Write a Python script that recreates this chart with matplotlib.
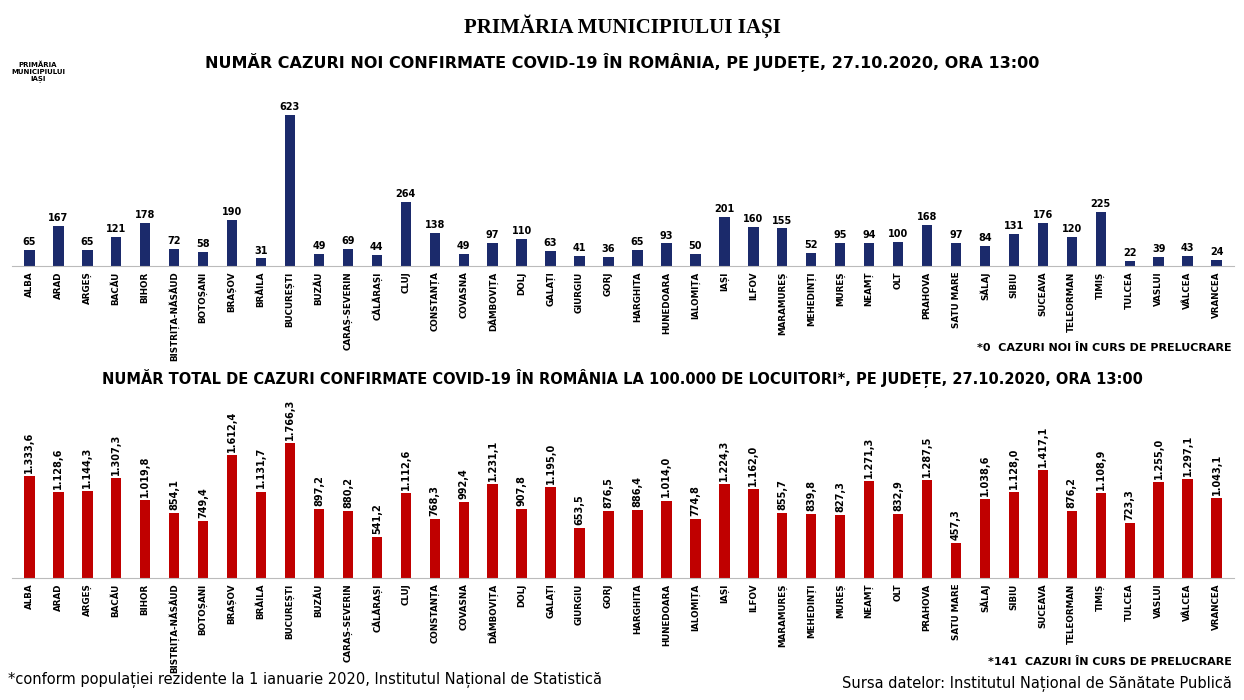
import matplotlib.pyplot as plt

judete = ["ALBA", "ARAD", "ARGEȘ", "BACĂU", "BIHOR", "BISTRIȚA-NĂSĂUD", "BOTOȘANI", "BRAȘOV",
          "BRĂILA", "BUCUREȘTI", "BUZĂU", "CARAȘ-SEVERIN", "CĂLĂRAȘI", "CLUJ", "CONSTANȚA",
          "COVASNA", "DÂMBOVIȚA", "DOLJ", "GALAȚI", "GIURGIU", "GORJ", "HARGHITA", "HUNEDOARA",
          "IALOMIȚA", "IAȘI", "ILFOV", "MARAMUREȘ", "MEHEDINȚI", "MUREȘ", "NEAMȚ", "OLT",
          "PRAHOVA", "SATU MARE", "SĂLAJ", "SIBIU", "SUCEAVA", "TELEORMAN", "TIMIȘ", "TULCEA",
          "VASLUI", "VÂLCEA", "VRANCEA"]
cazuri_noi = [65, 167, 65, 121, 178, 72, 58, 190, 31, 623, 49, 69, 44, 264, 138, 49, 97, 110, 63,
              41, 36, 65, 93, 50, 201, 160, 155, 52, 95, 94, 100, 168, 97, 84, 131, 176, 120, 225,
              22, 39, 43, 24]
la_100k = [1333.6, 1128.6, 1144.3, 1307.3, 1019.8, 854.1, 749.4, 1612.4, 1131.7, 1766.3, 897.2,
           880.2, 541.2, 1112.6, 768.3, 992.4, 1231.1, 907.8, 1195.0, 653.5, 876.5, 886.4, 1014.0,
           774.8, 1224.3, 1162.0, 855.7, 839.8, 827.3, 1271.3, 832.9, 1287.5, 457.3, 1038.6,
           1128.0, 1417.1, 876.2, 1108.9, 723.3, 1255.0, 1297.1, 1043.1]

W, H = 1244, 700
fig = plt.figure(figsize=(W / 100, H / 100), dpi=100)
x = list(range(len(judete)))


def fmt_ro(v):
    s = f"{v:,.1f}"
    return s.replace(",", "X").replace(".", ",").replace("X", ".")


def make_ax(top_px, bot_px):
    ax = fig.add_axes([12 / W, 1 - bot_px / H, 1222 / W, (bot_px - top_px) / H])
    for s in ["top", "right", "left"]:
        ax.spines[s].set_visible(False)
    ax.spines["bottom"].set_color("#bbbbbb")
    ax.set_yticks([])
    ax.set_xlim(-0.6, len(judete) - 0.4)
    ax.set_xticks(x)
    ax.set_xticklabels(judete, rotation=90, fontsize=6.3, fontweight="bold")
    ax.tick_params(axis="x", length=0, pad=4)
    return ax


# --- top chart: new cases
ax1 = make_ax(95, 266)
ax1.bar(x, cazuri_noi, width=0.36, color="#1b2a6b")
ax1.set_ylim(0, 706)
for i, v in enumerate(cazuri_noi):
    ax1.text(i, v + 12, str(v), ha="center", va="bottom", fontsize=7, fontweight="bold")

# --- bottom chart: per 100k
ax2 = make_ax(400, 578)
ax2.bar(x, la_100k, width=0.36, color="#c00000")
ax2.set_ylim(0, 2330)
for i, v in enumerate(la_100k):
    ax2.text(i, v + 40, fmt_ro(v), ha="center", va="bottom", rotation=90, fontsize=7,
             fontweight="bold")

fig.text(0.5, 1 - 26 / H, "PRIMĂRIA MUNICIPIULUI IAȘI", ha="center", va="center",
         fontsize=15, fontweight="bold", family="Liberation Serif")
fig.text(0.5, 1 - 62 / H,
         "NUMĂR CAZURI NOI CONFIRMATE COVID-19 ÎN ROMÂNIA, PE JUDEȚE, 27.10.2020, ORA 13:00",
         ha="center", va="center", fontsize=11.5, fontweight="bold")
fig.text(0.5, 1 - 378 / H,
         "NUMĂR TOTAL DE CAZURI CONFIRMATE COVID-19 ÎN ROMÂNIA LA 100.000 DE LOCUITORI*, PE JUDEȚE, 27.10.2020, ORA 13:00",
         ha="center", va="center", fontsize=10.5, fontweight="bold")
fig.text(1232 / W, 1 - 348 / H, "*0  CAZURI NOI ÎN CURS DE PRELUCRARE", ha="right",
         va="center", fontsize=8, fontweight="bold")
fig.text(1232 / W, 1 - 662 / H, "*141  CAZURI ÎN CURS DE PRELUCRARE", ha="right",
         va="center", fontsize=8, fontweight="bold")
fig.text(8 / W, 1 - 680 / H,
         "*conform populației rezidente la 1 ianuarie 2020, Institutul Național de Statistică",
         ha="left", va="center", fontsize=10.5)
fig.text(1232 / W, 1 - 684 / H, "Sursa datelor: Institutul Național de Sănătate Publică",
         ha="right", va="center", fontsize=10.5)
fig.text(38 / W, 1 - 72 / H, "PRIMĂRIA\nMUNICIPIULUI\nIAȘI", ha="center", va="center",
         fontsize=5, fontweight="bold", linespacing=1.1)

fig.savefig("out.png", dpi=100, facecolor="w")
